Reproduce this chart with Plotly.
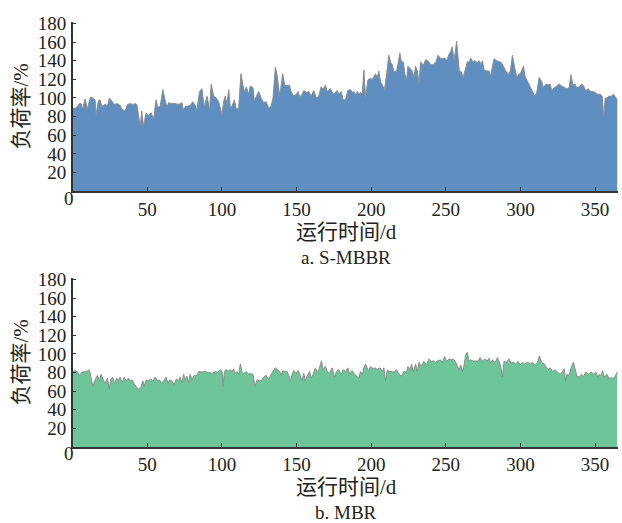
import plotly.graph_objects as go

# ---- Data ----
s_days = [0,1.6,2.7,4.5,5.6,6.7,8.3,9.8,11,12,13.4,15,15.7,17.2,18.3,19.5,21.7,23.3,24.6,26.2,28,30,31.8,32.9,35.1,36.7,38.5,40.3,41.8,43,44,45.2,46.3,47.4,49.2,50.8,52.6,54.1,55.9,57,58.6,60.4,62,63.1,64.2,66.4,68.7,70.9,73.2,74.3,75.4,77,78.7,80.5,82.1,83.2,85,86.6,88.1,90,91.7,92.8,94.4,96.2,97.8,100,101.1,102.2,103.4,104.5,105.6,106.7,108.3,109.6,111.2,112.7,114,115.2,116.3,117.9,
          119,120.8,121.7,123,124.6,126.2,128,129.7,131.3,132.9,134.2,135.8,136.9,138.7,140.7,142,143.6,145.2,146.3,148,149.9,151,152.1,153.7,154.8,156.6,158.2,159.7,161.5,163.3,164.9,166.4,167.8,169.3,170.5,172.7,174.5,176,177.2,178.3,179.9,181.2,182.8,184.3,186.1,187.2,188.4,189.5,190.6,191.7,192.8,194,195.1,196.2,197.7,199.1,200.7,201.8,202.9,204,205.1,206.2,207.4,208.9,210.3,211.8,213,214.1,215.2,217,218.1,219.2,220.3,221.5,222.6,223.7,224.6,225.9,227.5,228.6,229.7,230.9,232,233.1,234.9,236.4,238,
          239.8,241.6,243.2,244.7,246.1,247.6,249.2,250.5,252.1,253.2,254.3,255.5,256.4,257.2,258.1,259,260.4,261.5,262.8,264.4,265.5,266.6,268,269.3,271.1,272.5,273.4,274.5,275.6,277.4,279,280,281.2,282.3,284.1,285.7,287.2,288.6,290.1,291.3,292.4,293.5,294.6,296.2,297.5,298.6,300.2,302,303.1,304.7,306.5,308,309.6,310.9,312.5,314.1,315.4,317,318.5,319.9,321,322.6,324.4,325.9,327.5,329.3,331,332.6,333.8,335.1,336.4,337.8,339.4,340.9,342.3,343.8,345.4,346.7,348.3,349.9,351.7,353.4,354.8,355.7,356.8,357.9,359.5,361,362.4,364,365]
s_vals = [89,89,90,94,94,88,99,88,96,101,100,98,82,97,98,91,93,92,100,96,93,94,92,88,86,93,94,93,94,93,84,70,86,70,84,81,84,77,98,90,91,109,97,90,95,94,94,93,95,86,91,91,92,96,92,87,107,110,90,102,87,115,102,100,96,82,96,102,93,109,90,91,98,88,89,126,114,106,112,104,
          113,111,97,102,107,100,95,96,89,91,100,133,125,102,126,114,113,114,107,102,104,107,101,104,108,106,107,102,108,100,102,112,109,114,107,110,104,106,108,104,107,98,98,108,109,106,107,103,107,104,106,104,130,100,119,121,120,123,126,122,129,118,114,109,125,146,138,136,128,129,138,148,138,139,125,120,134,132,129,122,134,129,116,139,135,141,140,
          136,136,138,146,143,142,143,140,147,150,155,141,150,161,145,129,128,122,129,139,138,143,139,140,138,140,136,140,130,129,129,123,134,142,140,139,138,134,129,127,125,132,146,132,122,125,127,134,123,118,111,107,102,106,122,118,111,115,114,115,108,111,113,115,113,111,110,111,125,114,115,111,112,115,113,107,110,107,107,106,104,104,102,79,100,100,102,102,104,100,98]

m_days = [0,1.6,3.1,4.9,6,7.6,9.4,11.2,12.3,13.4,15,16.6,17.9,19,20.6,21.7,23.3,24.4,25.5,26.8,28,29.5,30.6,31.8,33.1,34.5,35.8,37.4,38.5,39.8,41.2,42.5,44,45.6,47,47.9,49.2,50.8,52.3,53.7,55.3,56.8,58.2,59.7,61.3,62.6,63.8,64.9,66.4,68,69.4,70.9,72,73.2,74.3,75.4,76.5,77.6,78.7,79.9,81.4,82.8,84.3,86.6,88.8,91,93.3,95.5,97.1,98.9,100,100.7,101.6,102.9,104.5,105.6,106.7,107.8,108.9,110,111.2,112.3,113.4,114.5,116.3,117.9,
          119,120.8,122.1,123.5,125.3,126.8,128,129.7,131.3,132.9,134.2,135.8,137.3,138.7,139.6,140.7,142,143.6,144.7,145.8,147,148.1,149.6,151,152.6,153.7,154.8,155.9,157.5,158.8,159.7,161.1,162.6,163.7,164.9,166,166.7,167.8,169.3,170.5,172.2,173.8,175.4,176.7,178.3,179.9,181.2,182.8,184.3,185.7,187.2,188.8,190.1,191.7,192.8,194,195.1,196.2,197.3,198.4,199.5,201.3,202.9,204,205.8,207.4,208.5,209.6,210.7,212.5,214.1,215.6,217,218.6,220.1,221.9,223.7,224.6,225.9,227,228.2,229.7,230.9,232,233.5,235.3,237.1,238.7,240.3,242,
          243.2,244.7,246.5,247.6,249.2,250.5,252.1,253.7,255,256.6,257.7,258.8,260,261.1,262.2,263.3,264.4,265.5,266.6,268.4,270,271.6,272.9,274.5,276,277.8,279,280.1,281.2,282.3,283.6,284.5,285.7,286.8,287.9,289,290.8,292.4,293.5,295.3,296.8,298.4,299.8,301.3,302.9,304.7,306.5,308,309.6,311.4,312.7,314.1,315.9,317,318.5,319.9,321.5,323,324.8,326.6,328.2,329.3,330.2,331.1,332.6,334.2,335.5,336.4,337.8,339.4,340.9,342.3,343.8,345.4,347.2,349,350.5,351.7,352.8,354,355,356.1,357.9,359.5,361,362.4,364,365]
m_vals = [81,82,81,76,80.5,81,81,83,74,65,72,77,71,78,72,68,74,62,73,75,68,74,71,75,69,75,71,74,71,72,68,65,61,64,71,65,72,71,73,71,75,71,72,68,72,75,68,72,71,67,73,71,75,69,78,72,76,69,78,72,77,76,81,80.5,81,80,79,81,80,83,81,65,81,83,81,83,80.5,84,79,81,78,89,81,79,81,78,
          79,78,65,72,71,72,75,77,72,78,81,85,83,81,77,82,81,81,77,71,78,82,79,82,76,71,79,71,78,81,74,78,85,81,83,88,92.5,83,86.5,81,79,85,75,81,83,78,83,81,85,78,82,78,76,74,81,78,85,89,85,81,86.5,84,85,83,85,81,85,71,82,81,80.5,81,83,78,76,81,80.5,86.5,83,89,81,89,81,91,86.5,92,88,94.6,92,92.5,
          91,92.5,93.6,91,97,92,94.6,93.6,94.6,91,86.5,83,88,81,88,99,101.7,92,93.6,92,92.5,92,96,92,94.6,92.5,95.4,90,93.6,91,92,96,92,86.5,75,92,91,94.6,90,91,89,92,88,91,89,91,89,91,88,91,98,91,89,86.5,83,85,81,83,80.5,78,81,84,71,78,77,86.5,91,85,76,75,78,76,80.5,78,80.5,78,80.5,75,78,77,82,75,78,73,75,73,78,81]

y_ticks = [20, 40, 60, 80, 100, 120, 140, 160, 180]
x_ticks = [50, 100, 150, 200, 250, 300, 350]
y_title = "负荷率/%"
x_title = "运行时间/d"
captions = ["a. S-MBBR", "b. MBR"]

FONT = "Liberation Serif, Times New Roman, Noto Sans CJK SC, serif"
W, H = 622, 523
TXT = "#222222"

fig = go.Figure()
fig.add_trace(go.Scatter(x=s_days, y=s_vals, mode="lines", fill="tozeroy",
                         line=dict(color="#8c8c8c", width=1), fillcolor="#5f8fc0",
                         xaxis="x", yaxis="y", showlegend=False))
fig.add_trace(go.Scatter(x=m_days, y=m_vals, mode="lines", fill="tozeroy",
                         line=dict(color="#8c8c8c", width=1), fillcolor="#6fc59a",
                         xaxis="x2", yaxis="y2", showlegend=False))

def pf(px):
    return 1 - px / H

xdom = [72.7 / W, 617.5 / W]
top_dom = [pf(186), pf(13.8)]
bot_dom = [pf(445.7), pf(273.8)]

axis_common = dict(showline=True, linecolor="#333333", linewidth=1.5, showgrid=False,
                   zeroline=False, ticks="inside", ticklen=4, tickwidth=1, tickcolor="#333333",
                   tickfont=dict(family=FONT, size=19, color=TXT))

fig.update_layout(
    width=W, height=H, margin=dict(l=0, r=0, t=0, b=0),
    paper_bgcolor="white", plot_bgcolor="white",
    xaxis=dict(domain=xdom, range=[0, 365], tickvals=x_ticks, anchor="y",
               ticklabelstandoff=0, **axis_common),
    yaxis=dict(domain=top_dom, range=[0, 182], tickvals=y_ticks, anchor="x",
               ticklabelstandoff=1, **axis_common),
    xaxis2=dict(domain=xdom, range=[0, 365], tickvals=x_ticks, anchor="y2",
                ticklabelstandoff=0, **axis_common),
    yaxis2=dict(domain=bot_dom, range=[0, 182], tickvals=y_ticks, anchor="x2",
                ticklabelstandoff=1, **axis_common),
)

ann = []
for ybase, cap, ymid in [(186, captions[0], 100), (445.7, captions[1], 360)]:
    ann.append(dict(x=68.5 / W, y=pf(ybase + 7), xref="paper", yref="paper", text="0",
                    showarrow=False, font=dict(family=FONT, size=19, color=TXT),
                    xanchor="center", yanchor="middle"))
    ann.append(dict(x=346 / W, y=pf(ybase + 41), xref="paper", yref="paper", text=x_title,
                    showarrow=False, font=dict(family=FONT, size=21, color=TXT),
                    xanchor="center", yanchor="middle"))
    ann.append(dict(x=346 / W, y=pf(ybase + 67), xref="paper", yref="paper", text=cap,
                    showarrow=False, font=dict(family=FONT, size=19, color=TXT),
                    xanchor="center", yanchor="middle"))
    ann.append(dict(x=21 / W, y=pf(ymid), xref="paper", yref="paper", text=y_title,
                    showarrow=False, textangle=-90, font=dict(family=FONT, size=21, color=TXT),
                    xanchor="center", yanchor="middle"))
fig.update_layout(annotations=ann)

fig.write_html("out.html", config={"displayModeBar": False},
               post_script="document.body.style.margin='0';document.body.style.overflow='hidden';")
